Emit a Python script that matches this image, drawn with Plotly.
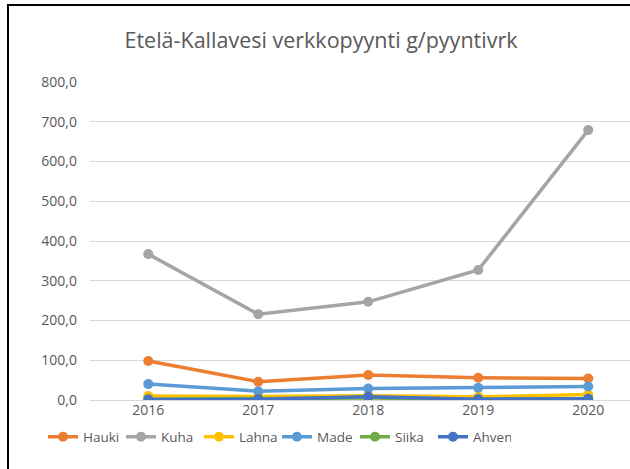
import plotly.graph_objects as go

years = ["2016", "2017", "2018", "2019", "2020"]
hauki = [98, 46, 63, 56, 54]
kuha = [367, 216, 247, 327, 679]
lahna = [10, 9, 11, 8, 14]
made = [40, 22, 29, 31, 34]
siika = [2, 3, 5, 2, 3]
ahven = [1, 2, 8, 2, 3]
yticks = [0, 100, 200, 300, 400, 500, 600, 700, 800]
ytext = ["0,0", "100,0", "200,0", "300,0", "400,0", "500,0", "600,0", "700,0", "800,0"]

series = [
    ("Hauki", hauki, "#ED7D31"),
    ("Kuha", kuha, "#A5A5A5"),
    ("Lahna", lahna, "#FFC000"),
    ("Made", made, "#5B9BD5"),
    ("Siika", siika, "#70AD47"),
    ("Ahven", ahven, "#4472C4"),
]

fig = go.Figure()
for name, vals, col in series:
    fig.add_trace(go.Scatter(
        x=years, y=vals, name=name, mode="lines+markers",
        line=dict(color=col, width=3.5),
        marker=dict(color=col, size=10),
    ))

L, T, B = 90, 82, 69
W, H = 630, 469
pw = W - L
ph = H - T - B

fig.update_layout(
    width=W, height=H,
    margin=dict(l=L, r=0, t=T, b=B, autoexpand=False),
    paper_bgcolor="white", plot_bgcolor="white",
    font=dict(family="Open Sans, sans-serif", color="#595959"),
    title=dict(text="Etelä-Kallavesi verkkopyynti g/pyyntivrk", x=321 / W, xanchor="center",
               y=1 - 40 / H, yanchor="middle", font=dict(size=21.5, color="#595959")),
    xaxis=dict(type="category", range=[-0.53, 4.38], showgrid=False, zeroline=False,
               showline=False, ticks="", tickfont=dict(size=14, color="#595959")),
    yaxis=dict(range=[0, 800], tickvals=yticks, ticktext=ytext, showgrid=True,
               gridcolor="#D9D9D9", gridwidth=1, zeroline=True, zerolinecolor="#D9D9D9",
               zerolinewidth=1, ticks="", ticklabelstandoff=12,
               tickfont=dict(size=14, color="#595959")),
    legend=dict(orientation="h", x=43 / W, xanchor="left", xref="container",
                y=1 - 437 / H, yanchor="middle", yref="container",
                font=dict(size=13.5, color="#595959"), itemwidth=30, traceorder="normal",
                entrywidth=33, entrywidthmode="pixels"),
    showlegend=True,
)
fig.add_shape(type="rect", xref="paper", yref="paper",
              x0=(8 - L) / pw, x1=(700 - L) / pw,
              y0=(H - B - 600) / ph, y1=(H - B - 5) / ph,
              line=dict(color="black", width=2), fillcolor="rgba(0,0,0,0)", layer="above")
fig.write_html("out.html", config={"displayModeBar": False},
               post_script="document.body.style.margin='0';document.body.style.overflow='hidden';")
